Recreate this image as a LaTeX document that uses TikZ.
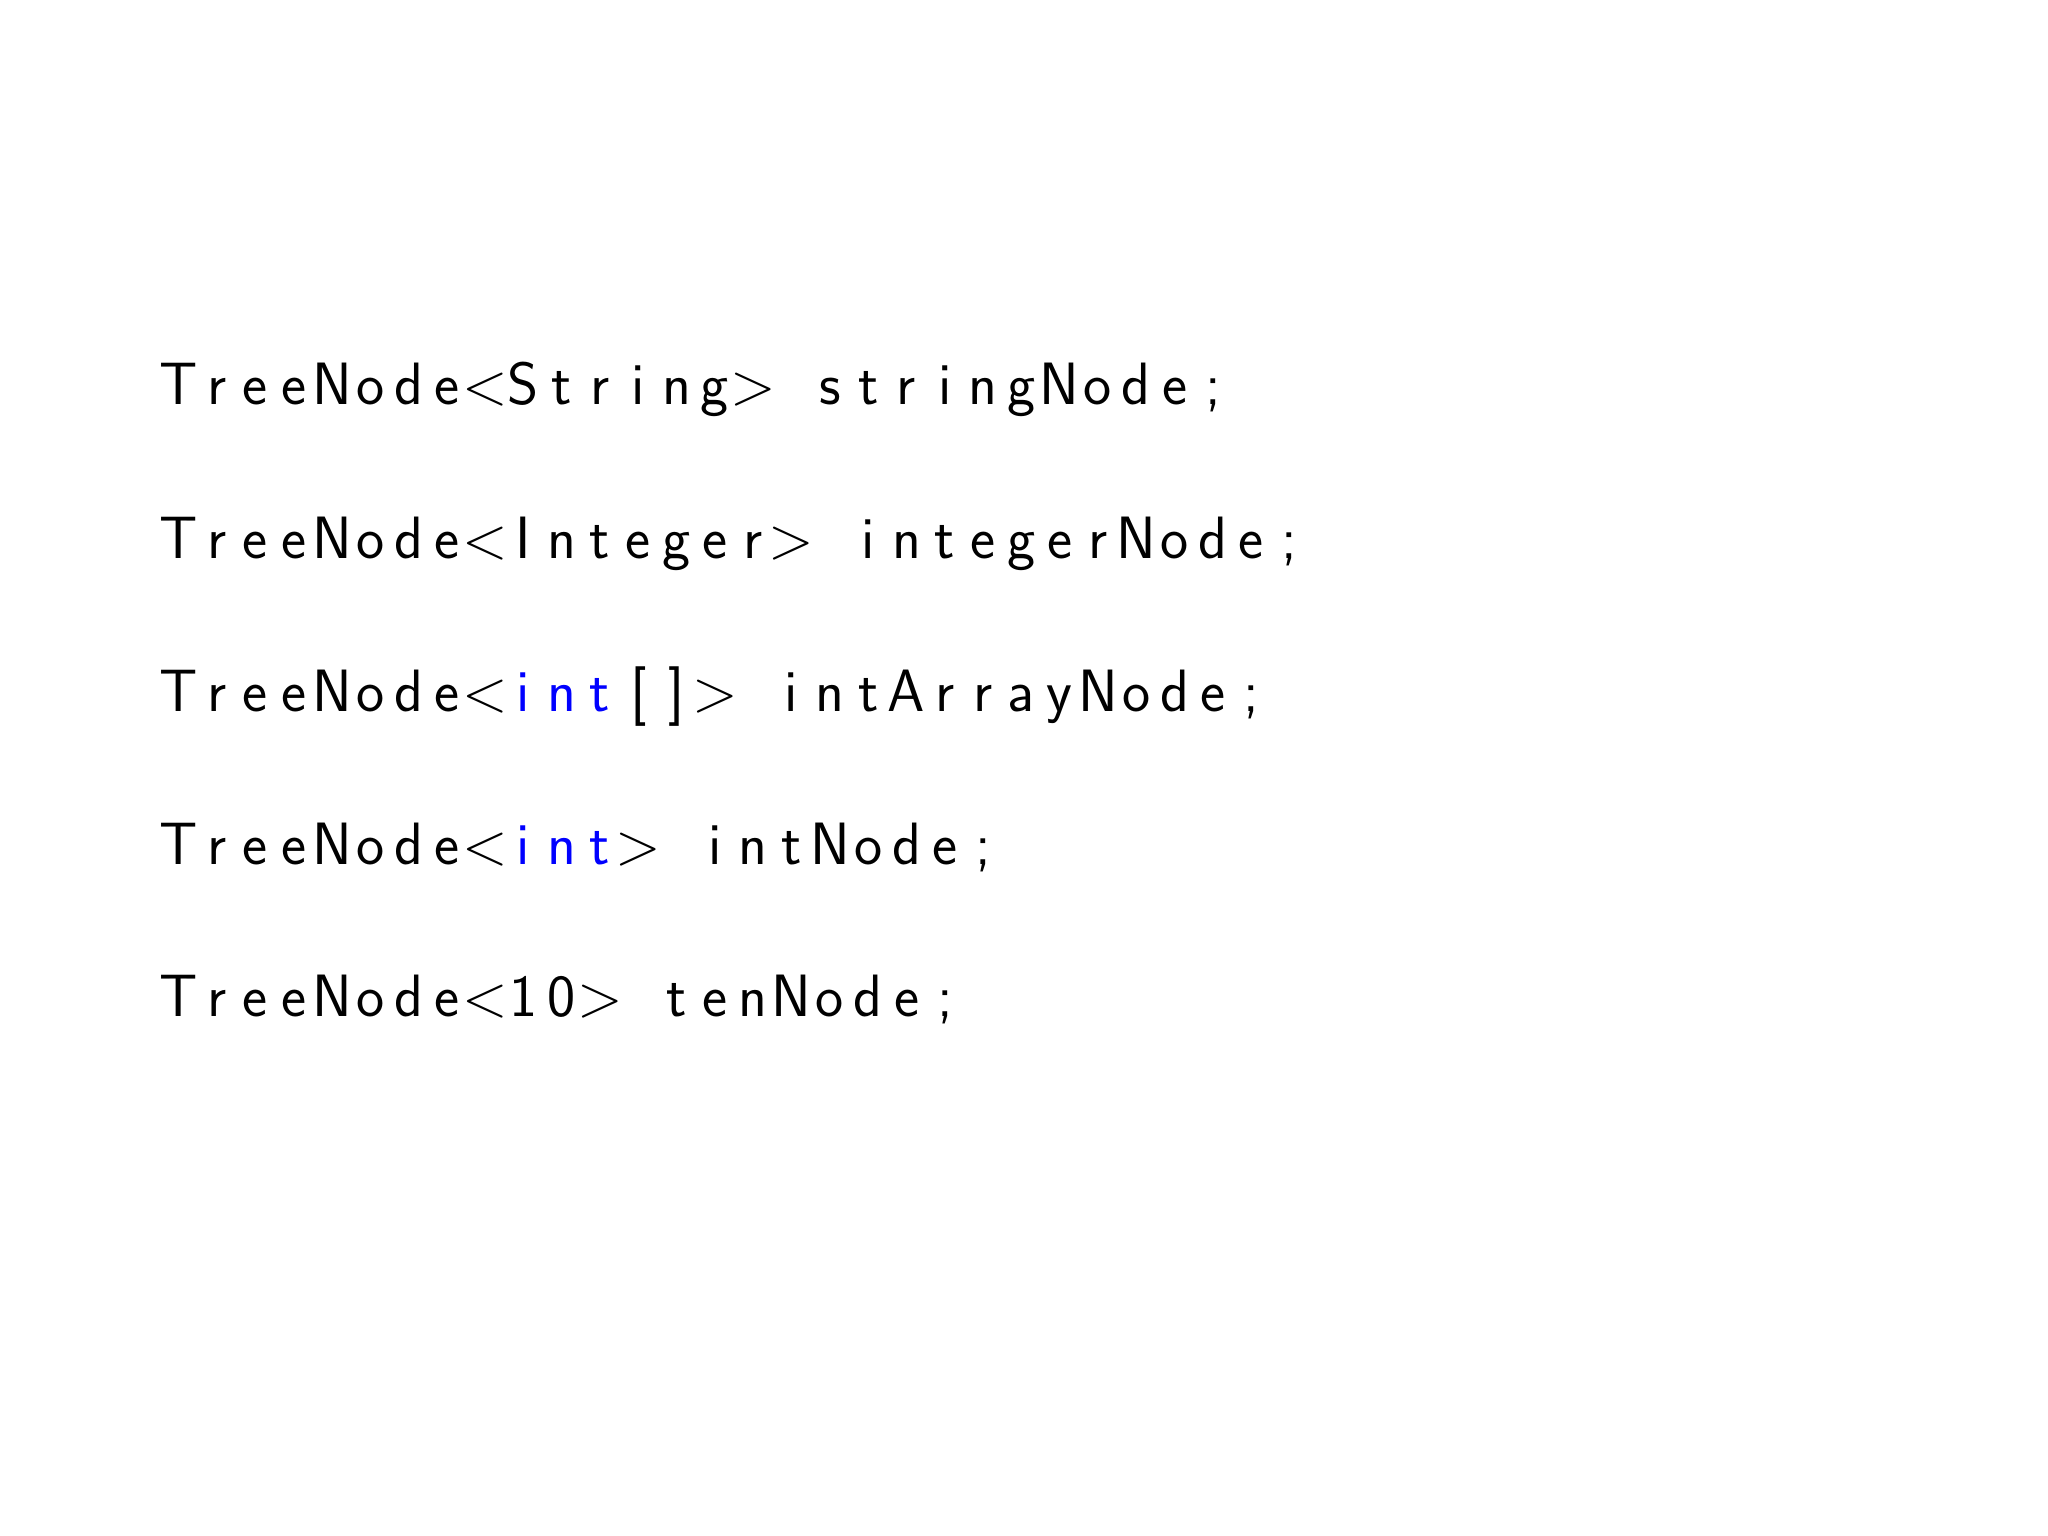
\documentclass[tikz,border=0pt]{standalone}
\usepackage{xcolor}
\makeatletter
\newcommand\Lchars[1]{\@tfor\lc@t:=#1\do{\makebox[0.383cm][c]{\lc@t}}}
\makeatother
\tikzset{codeline/.style={anchor=base west,inner sep=0pt,font=\sffamily\fontsize{17}{20}\selectfont}}
\begin{document}
\begin{tikzpicture}
\useasboundingbox (0,0) rectangle (20.48,15.36);
\node[codeline] (l1) at (1.59,11.31) {\Lchars{TreeNode<String>~stringNode;}};
\node[codeline] (l2) at (1.59,9.77) {\Lchars{TreeNode<Integer>~integerNode;}};
\node[codeline] (l3) at (1.59,8.24) {\Lchars{TreeNode<}\textcolor{blue}{\Lchars{int}}\Lchars{[]>~intArrayNode;}};
\node[codeline] (l4) at (1.59,6.71) {\Lchars{TreeNode<}\textcolor{blue}{\Lchars{int}}\Lchars{>~intNode;}};
\node[codeline] (l5) at (1.59,5.19) {\Lchars{TreeNode<10>~tenNode;}};
\end{tikzpicture}
\end{document}
